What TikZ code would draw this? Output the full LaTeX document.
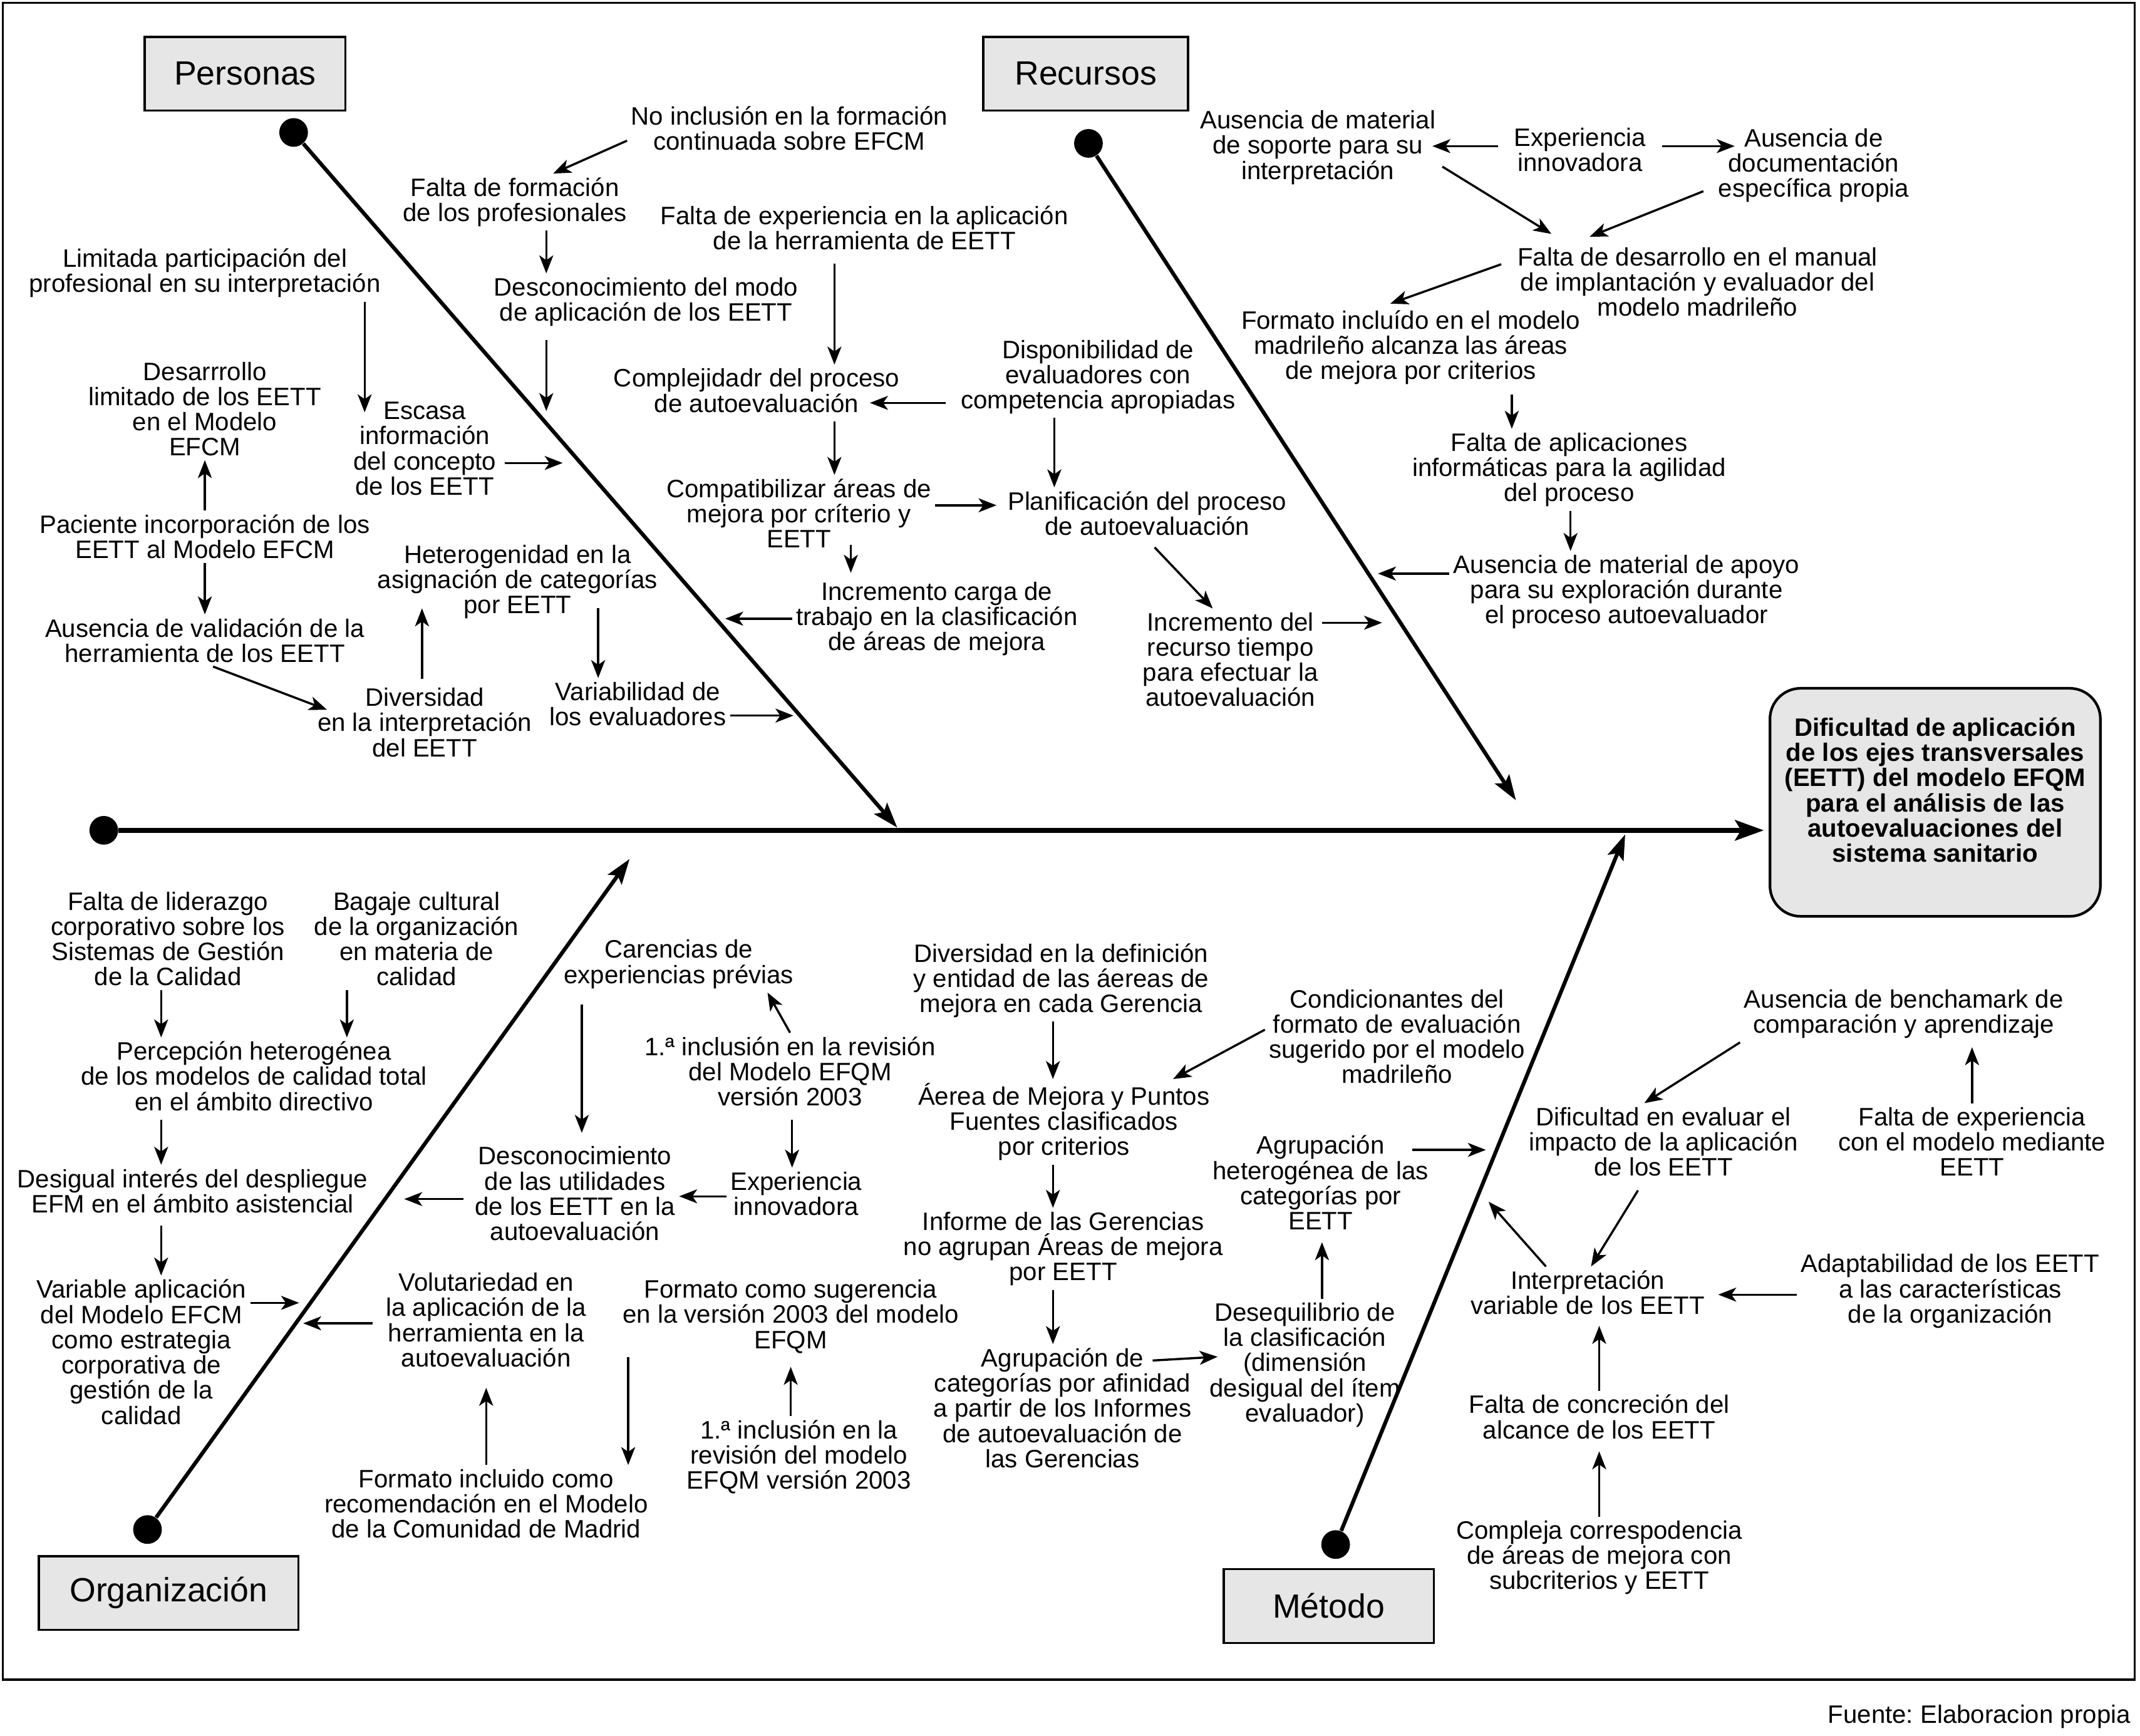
\documentclass[tikz,border=0pt]{standalone}
\usepackage{fontspec}
\setmainfont{Liberation Sans}
\usetikzlibrary{arrows.meta}
\definecolor{boxgray}{HTML}{E6E6E6}
\lineskiplimit=-10pt
\frenchspacing

\begin{document}
\begin{tikzpicture}[x=0.02cm,y=-0.02cm,
	txt/.style={align=center,inner sep=1.5pt,font=\fontsize{10.5}{10.5}\selectfont},
	cat/.style={draw,line width=0.9pt,fill=boxgray,inner sep=0pt,minimum height=1.08cm,font=\fontsize{14}{16}\selectfont},
	dot/.style={circle,fill=black,inner sep=0pt,minimum size=0.42cm},
	arr/.style={line width=0.9pt,-{Stealth[length=7.5pt,width=5.8pt,inset=2pt]}},
	bone/.style={line width=1.6pt,-{Stealth[length=10.5pt,width=7pt,inset=2pt]}},
	spine/.style={line width=2pt,-{Stealth[length=12pt,width=8.5pt,inset=2.5pt]}}]
	\useasboundingbox (0,0) rectangle (1567,1271);
	\draw [line width=0.9pt] (2,2) rectangle (1563,1230);

	\node[cat,minimum width=2.94cm] (pers) at (179.5,54){Personas};
	\node[cat,minimum width=3cm] (rec) at (795,54){Recursos};
	\node[cat,minimum width=3.8cm] (org) at (123.5,1166.5){Organización};
	\node[cat,minimum width=3.08cm] (met) at (973,1176){Método};
	\node[draw,line width=1.1pt,fill=boxgray,rounded corners=0.45cm,minimum width=4.84cm,minimum height=3.34cm] (efecto) at (1417,587.5){};
	\node[txt,font=\fontsize{10.5}{10.5}\selectfont\bfseries] (efectotxt) at (1417,578.5){Dificultad de aplicación\\de los ejes transversales\\(EETT) del modelo EFQM\\para el análisis de las\\autoevaluaciones del\\sistema sanitario};

	\node[dot] (dP) at (215,97){};
	\node[dot] (dR) at (797,105){};
	\node[dot] (dO) at (108,1120){};
	\node[dot] (dM) at (978,1131){};
	\node[dot] (dS) at (76,608){};
	\coordinate (tP) at (657,606);
	\coordinate (tR) at (1110,586);
	\coordinate (tO) at (461,629);
	\coordinate (tM) at (1190,611);
	\draw [spine,shorten >=2pt] (dS) -- (efecto.west |- dS);
	\draw [bone] (dP) -- (tP);
	\draw [bone] (dR) -- (tR);
	\draw [bone] (dO) -- (tO);
	\draw [bone] (dM) -- (tM);

	\node[txt] (p1) at (578,94){No inclusión en la formación\\continuada sobre EFCM};
	\node[txt] (p2) at (377,148){Falta de formación\\de los profesionales};
	\node[txt] (p3) at (473,221){Desconocimiento del modo\\de aplicación de los EETT};
	\node[txt] (p4) at (633,167){Falta de experiencia en la aplicación\\de la herramienta de EETT};
	\node[txt] (p5) at (554,286){Complejidadr del proceso\\de autoevaluación};
	\node[txt] (p6) at (804,276){Disponibilidad de\\evaluadores con\\competencia apropiadas};
	\node[txt] (p7) at (840,376){Planificación del proceso\\de autoevaluación};
	\node[txt] (p8) at (585,376){Compatibilizar áreas de\\mejora por críterio y\\EETT};
	\node[txt] (p9) at (686,453){Incremento carga de\\trabajo en la clasificación\\de áreas de mejora};
	\node[txt] (p10) at (901,483){Incremento del\\recurso tiempo\\para efectuar la\\autoevaluación};
	\node[txt] (p11) at (150,200){Limitada participación del\\profesional en su interpretación};
	\node[txt] (p12) at (311,328.5){Escasa\\información\\del concepto\\de los EETT};
	\node[txt] (p13) at (150,299.5){Desarrrollo\\limitado de los EETT\\en el Modelo\\EFCM};
	\node[txt] (p14) at (150,393){Paciente incorporación de los\\EETT al Modelo EFCM};
	\node[txt] (p15) at (150,469){Ausencia de validación de la\\herramienta de los EETT};
	\node[txt] (p16) at (311,529){Diversidad\\en la interpretación\\del EETT};
	\node[txt] (p17) at (379,426){Heterogenidad en la\\asignación de categorías\\por EETT};
	\node[txt] (p18) at (467,515.5){Variabilidad de\\los evaluadores};

	\node[txt] (r1) at (965,108){Ausencia de material\\de soporte para su\\interpretación};
	\node[txt] (r2) at (1157,109.5){Experiencia\\innovadora};
	\node[txt] (r3) at (1328,121){Ausencia de\\documentación\\específica propia};
	\node[txt] (r4) at (1243,206.5){Falta de desarrollo en el manual\\de implantación y evaluador del\\modelo madrileño};
	\node[txt] (r5) at (1033,254.5){Formato incluído en el modelo\\madrileño alcanza las áreas\\de mejora por criterios};
	\node[txt] (r6) at (1149,344){Falta de aplicaciones\\informáticas para la agilidad\\del proceso};
	\node[txt] (r7) at (1191,433.5){Ausencia de material de apoyo\\para su exploración durante\\el proceso autoevaluador};

	\node[txt] (o1) at (123,687.5){Falta de liderazgo\\corporativo sobre los\\Sistemas de Gestión\\de la Calidad};
	\node[txt] (o2) at (305,687.5){Bagaje cultural\\de la organización\\en materia de\\calidad};
	\node[txt] (o3) at (186,788){Percepción heterogénea\\de los modelos de calidad total\\en el ámbito directivo};
	\node[txt] (o4) at (141,872){Desigual interés del despliegue\\EFM en el ámbito asistencial};
	\node[txt] (o5) at (103.5,990){Variable aplicación\\del Modelo EFCM\\como estrategia\\corporativa de\\gestión de la\\calidad};
	\node[txt] (o6) at (356,966.5){Volutariedad en\\la aplicación de la\\herramienta en la\\autoevaluación};
	\node[txt] (o7) at (356,1101){Formato incluido como\\recomendación en el Modelo\\de la Comunidad de Madrid};
	\node[txt] (o8) at (497,706){Carencias de\\experiencias prévias};
	\node[txt] (o9) at (421,874){Desconocimiento\\de las utilidades\\de los EETT en la\\autoevaluación};
	\node[txt] (o10) at (578.5,784.5){1.ª inclusión en la revisión\\del Modelo EFQM\\versión 2003};
	\node[txt] (o11) at (583,874){Experiencia\\innovadora};
	\node[txt] (o12) at (579,964){Formato como sugerencia\\en la versión 2003 del modelo\\EFQM};
	\node[txt] (o13) at (585,1067){1.ª inclusión en la\\revisión del modelo\\EFQM versión 2003};

	\node[txt] (m1) at (777,718){Diversidad en la definición\\y entidad de las áereas de\\mejora en cada Gerencia};
	\node[txt] (m2) at (779,821.5){Áerea de Mejora y Puntos\\Fuentes clasificados\\por criterios};
	\node[txt] (m3) at (1023,759){Condicionantes del\\formato de evaluación\\sugerido por el modelo\\madrileño};
	\node[txt] (m4) at (778.5,914.5){Informe de las Gerencias\\no agrupan Áreas de mejora\\por EETT};
	\node[txt] (m5) at (778,1031){Agrupación de\\categorías por afinidad\\a partir de los Informes\\de autoevaluación de\\las Gerencias};
	\node[txt] (m6) at (955.5,999.5){Desequilibrio de\\la clasificación\\(dimensión\\desigual del ítem\\evaluador)};
	\node[txt] (m7) at (967,866){Agrupación\\heterogénea de las\\categorías por\\EETT};
	\node[txt] (m8) at (1394,742.5){Ausencia de benchamark de\\comparación y aprendizaje};
	\node[txt] (m9) at (1218,836){Dificultad en evaluar el\\impacto de la aplicación\\de los EETT};
	\node[txt] (m10) at (1444,836){Falta de experiencia\\con el modelo mediante\\EETT};
	\node[txt] (m11) at (1162.5,946.5){Interpretación\\variable de los EETT};
	\node[txt] (m12) at (1428,945.5){Adaptabilidad de los EETT\\a las características\\de la organización};
	\node[txt] (m13) at (1171,1037.5){Falta de concreción del\\alcance de los EETT};
	\node[txt] (m14) at (1171,1140.5){Compleja correspodencia\\de áreas de mejora con\\subcriterios y EETT};

	\node[txt,anchor=east] (fuente) at (1563,1257){Fuente: Elaboracion propia};

	\coordinate (b1) at (400,301);
	\coordinate (b2) at (531,453);
	\coordinate (b3) at (1012,456);
	\coordinate (b4) at (412,339);
	\coordinate (b5) at (581,524);
	\coordinate (b6) at (1009,420);
	\coordinate (b7) at (219,954);
	\coordinate (b8) at (222,969);
	\coordinate (b9) at (296,878);
	\coordinate (b10) at (1088,842);
	\coordinate (b11) at (1090,880);

	\draw [arr] (p1.west |- 0,103) -- (p2.north -| 405,0);
	\draw [arr] (p2.south -| 400,0) -- (p3.north -| 400,0);
	\draw [arr,shorten <=4pt] (p3.south -| 400,0) -- (b1);
	\draw [arr,shorten <=4pt] (p4.south -| 611,0) -- (p5.north -| 611,0);
	\draw [arr,shorten <=4.5pt,shorten >=-14pt] (p6.west |- 0,295) -- (p5.east |- 0,295);
	\draw [arr] (p6.south -| 772,0) -- (p7.north -| 772,0);
	\draw [arr,shorten <=2pt] (p5.south -| 611,0) -- (p8.north -| 611,0);
	\draw [arr,shorten >=3pt] (p8.east |- 0,370) -- (p7.west |- 0,370);
	\draw [arr,shorten <=-3pt,shorten >=2pt] (p8.south -| 623,0) -- (p9.north -| 623,0);
	\draw [arr] (p9.west |- 0,453) -- (b2);
	\draw [arr,shorten <=4.5pt] (p7.south) -- (p10.north -| 888,0);
	\draw [arr] (p10.east |- 0,456) -- (b3);
	\draw [arr,shorten >=-6pt] (p11.south -| 267,0) -- (p12.north -| 267,0);
	\draw [arr,shorten <=2pt] (p12.east |- 0,339) -- (b4);
	\draw [arr] (p14.north) -- (p13.south);
	\draw [arr] (p14.south) -- (p15.north);
	\draw [arr,shorten >=-6pt] (p15.south -| 156,0) -- (p16.west |- 0,516);
	\draw [arr,shorten <=2pt,shorten >=-6pt] (p16.north -| 309,0) -- (p17.south -| 309,0);
	\draw [arr,shorten <=-6pt] (p17.south -| 438,0) -- (p18.north -| 438,0);
	\draw [arr] (p18.east |- 0,524) -- (b5);

	\draw [arr,shorten <=5pt,shorten >=-3pt] (r2.west |- 0,107) -- (r1.east |- 0,107);
	\draw [arr,shorten <=5pt,shorten >=-8.5pt] (r2.east |- 0,107) -- (r3.west |- 0,107);
	\draw [arr] ([shift={(2,14)}]r1.east) -- ([shift={(-107,-7)}]r4.north);
	\draw [arr] ([shift={(-8,-11)}]r3.south west) -- ([shift={(-79,-5)}]r4.north);
	\draw [arr] ([shift={(-9,-13)}]r4.west) -- ([shift={(-15,-2)}]r5.north);
	\draw [arr,shorten <=2.5pt] (r5.south -| 1107,0) -- (r6.north -| 1107,0);
	\draw [arr] (r6.south -| 1150,0) -- (r7.north -| 1150,0);
	\draw [arr] (r7.west |- 0,420) -- (b6);

	\draw [arr] (o1.south -| 118,0) -- (o3.north -| 118,0);
	\draw [arr] (o2.south -| 254,0) -- (o3.north -| 254,0);
	\draw [arr,shorten <=2pt] (o3.south -| 118,0) -- (o4.north -| 118,0);
	\draw [arr,shorten <=3.5pt] (o4.south -| 118,0) -- (o5.north -| 118,0);
	\draw [arr] (o5.east |- 0,954) -- (b7);
	\draw [arr,shorten <=4pt] (o6.west |- 0,969) -- (b8);
	\draw [arr,shorten >=7pt] (o7.north -| 356,0) -- (o6.south -| 356,0);
	\draw [arr,shorten <=5pt,shorten >=4pt] (o8.south -| 426,0) -- (o9.north -| 426,0);
	\draw [arr,shorten <=3pt] (o9.west |- 0,878) -- (b9);
	\draw [arr] (o10.north) -- (o8.south -| 562,0);
	\draw [arr,shorten <=4pt] (o10.south -| 580,0) -- (o11.north -| 580,0);
	\draw [arr] (o11.west |- 0,876) -- (o9.east |- 0,876);
	\draw [arr,shorten >=4pt] (o13.north -| 579,0) -- (o12.south -| 579,0);
	\draw [arr] (o12.south -| 460,0) -- (o7.north -| 460,0);

	\draw [arr] (m1.south -| 771,0) -- (m2.north -| 771,0);
	\draw [arr] (m3.west |- 0,754) -- (m2.north -| 859,0);
	\draw [arr] (m2.south -| 771,0) -- (m4.north -| 771,0);
	\draw [arr] (m4.south -| 771,0) -- (m5.north -| 771,0);
	\draw [arr,shorten >=-5pt] ([shift={(66,12)}]m5.north) -- (m6.west |- 0,994);
	\draw [arr,shorten >=3.5pt] (m6.north -| 968,0) -- (m7.south -| 968,0);
	\draw [arr,shorten <=-8.5pt] (m7.east |- 0,842) -- (b10);
	\draw [arr] (m8.south west) -- (m9.north -| 1204,0);
	\draw [arr,shorten >=2pt] (m10.north -| 1444,0) -- (m8.south -| 1444,0);
	\draw [arr,shorten <=5pt] (m9.south -| 1204,0) -- (m11.north -| 1165,0);
	\draw [arr] (m11.north -| 1132,0) -- (b11);
	\draw [arr,shorten >=4pt] (m12.west |- 0,948) -- (m11.east |- 0,948);
	\draw [arr,shorten >=3pt] (m13.north -| 1171,0) -- (m11.south -| 1171,0);
	\draw [arr,shorten >=3.5pt] (m14.north -| 1171,0) -- (m13.south -| 1171,0);
\end{tikzpicture}
\end{document}
